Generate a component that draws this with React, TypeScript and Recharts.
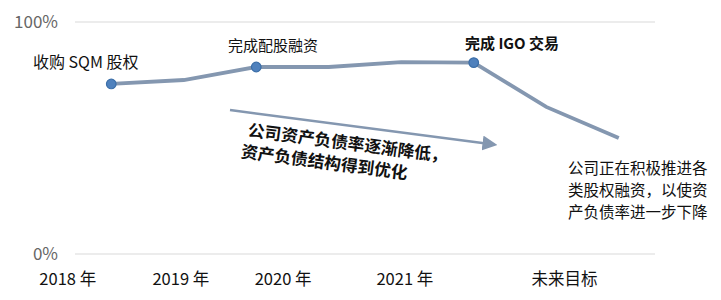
import { CartesianGrid, Customized, Line, LineChart, XAxis, YAxis } from 'recharts'

const points = [0, 1, 2, 3, 4, 5, 6, 7]
const debtRatio = [73.3, 75, 80.6, 80.6, 82.7, 82.5, 63.4, 50]
const markedPoints = [0, 2, 5]

const yearLabels = ['2018 年', '2019 年', '2020 年', '2021 年', '未来目标']
const yearTickPos = [-0.6, 0.96, 2.37, 4.05, 6.25]

const data = points.map((p, i) => ({ x: p, ratio: debtRatio[i] }))

const FONT = '"Noto Sans CJK SC", "Noto Sans", sans-serif'
const LINE = '#8497b0'

const Dot = (props: any) => {
  const { cx, cy, index } = props
  if (!markedPoints.includes(index)) return <g key={index} />
  return <circle key={index} cx={cx} cy={cy} r={4.8} fill="#4f81bd" stroke="#3b6ea8" strokeWidth={1.2} />
}

const Notes = () => (
  <g fontFamily={FONT}>
    <defs>
      <marker id="arrowHead" markerWidth="6" markerHeight="6" refX="3" refY="3" orient="auto" markerUnits="strokeWidth">
        <path d="M0,0 L6,3 L0,6 Z" fill={LINE} />
      </marker>
    </defs>
    <text x={33} y={68} fontSize={16} fill="#111">收购 SQM 股权</text>
    <text x={228} y={51} fontSize={15} fill="#111">完成配股融资</text>
    <text x={465} y={49} fontSize={15} fontWeight="bold" fill="#111">完成 IGO 交易</text>
    <line x1={230} y1={110} x2={490} y2={144} stroke={LINE} strokeWidth={2.5} markerEnd="url(#arrowHead)" />
    <g transform="rotate(7.5 248 130)" fontSize={16.8} fontWeight="bold" fill="#111">
      <text x={248} y={136}>公司资产负债率逐渐降低，</text>
      <text x={244} y={158}>资产负债结构得到优化</text>
    </g>
    <g fontSize={15.5} fill="#111">
      <text x={568} y={174}>公司正在积极推进各</text>
      <text x={568} y={196}>类股权融资，以使资</text>
      <text x={568} y={218}>产负债率进一步下降</text>
    </g>
  </g>
)

export default function App() {
  return (
    <div style={{ position: 'absolute', left: 0, top: 0, background: '#fff' }}>
      <LineChart width={721} height={300} data={data} margin={{ top: 22, right: 66, bottom: 0, left: 0 }}>
        <CartesianGrid vertical={false} stroke="#d9d9d9" />
        <XAxis
          dataKey="x"
          type="number"
          domain={[-0.5, 7.5]}
          ticks={yearTickPos}
          tickFormatter={(v: number) => yearLabels[yearTickPos.indexOf(v)] ?? ''}
          axisLine={false}
          tickLine={false}
          tickSize={0}
          tickMargin={19}
          height={46}
          interval={0}
          tick={{ fill: '#111', fontSize: 16.5, fontFamily: FONT }}
        />
        <YAxis
          domain={[0, 100]}
          ticks={[0, 100]}
          tickFormatter={(v: number) => `${v}%`}
          axisLine={false}
          tickLine={false}
          tickSize={0}
          tickMargin={17}
          width={75}
          tick={{ fill: '#666', fontSize: 17, fontFamily: FONT }}
        />
        <Line
          dataKey="ratio"
          type="linear"
          stroke={LINE}
          strokeWidth={3.8}
          dot={Dot}
          activeDot={false}
          isAnimationActive={false}
        />
        <Customized component={Notes} />
      </LineChart>
    </div>
  )
}
